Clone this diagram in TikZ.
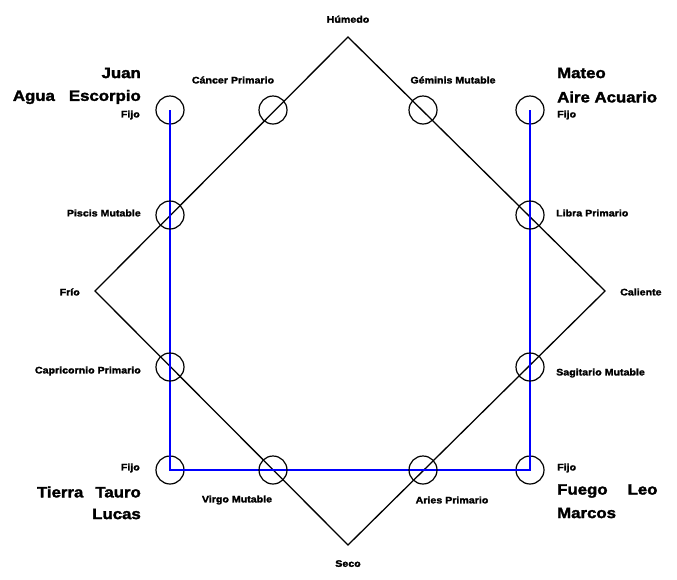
\documentclass[tikz,border=0pt]{standalone}
\usepackage{fontspec}
\setmainfont{Liberation Sans}[BoldFeatures={FakeBold=2,FakeStretch=1.12}]
\usetikzlibrary{positioning}

\begin{document}
\begin{tikzpicture}[x=1pt,y=-1pt,
    sign/.style={draw, circle, line width=1.2pt, minimum size=28pt, inner sep=0pt},
    small/.style={font=\bfseries\fontsize{9.5}{10}\selectfont, inner sep=1pt},
    big/.style={font=\bfseries\fontsize{15}{16}\selectfont, inner sep=1pt},
    axis/.style={line width=1.3pt, black},
    cross/.style={line width=1.6pt, blue}
    ]
    \useasboundingbox (0,0) rectangle (677,579);
    % corners of the square
    \coordinate (hum) at (348,37);
    \coordinate (cal) at (605,291);
    \coordinate (seco) at (348,545);
    \coordinate (frio) at (95,291);
    \draw[axis] (hum) -- (cal) -- (seco) -- (frio) -- cycle;
    % fixed signs
    \node [sign](esc) at (170,110) {};
    \node [sign](acu) at (530,110) {};
    \node [sign](tau) at (170,470) {};
    \node [sign](leo) at (530,470) {};
    \draw[cross] (esc.center) -- (tau.center) -- (leo.center) -- (acu.center);
    % signs on the edges
    \node [sign](can) at (273,110) {};
    \node [sign](gem) at (423,110) {};
    \node [sign](pis) at (170,215) {};
    \node [sign](lib) at (530,215) {};
    \node [sign](cpr) at (170,367) {};
    \node [sign](sag) at (530,367) {};
    \node [sign](vir) at (273,470) {};
    \node [sign](ari) at (423,470) {};
    % qualities
    \node [small](thum) [above=13pt of hum] {Húmedo};
    \node [small](tseco) [below=14pt of seco] {Seco};
    \node [small, anchor=east](tfrio) at (81,292) {Frío};
    \node [small, anchor=west](tcal) at (619,292) {Caliente};
    % sign labels
    \node [small](tcan) at (233,80) {Cáncer Primario};
    \node [small](tgem) at (453,80) {Géminis Mutable};
    \node [small, anchor=east](tpis) at (142,213) {Piscis Mutable};
    \node [small, anchor=west](tlib) at (555,213) {Libra Primario};
    \node [small, anchor=east](tcpr) at (142,371) {Capricornio Primario};
    \node [small, anchor=west](tsag) at (555,373) {Sagitario Mutable};
    \node [small](tvir) at (237,500) {Virgo Mutable};
    \node [small](tari) at (452,500) {Aries Primario};
    % fixed crosses
    \node [small, anchor=east](fesc) at (141,115) {Fijo};
    \node [big, anchor=east](nesc) at (142,97) {Agua\hspace{14pt}Escorpio};
    \node [big, anchor=east](jesc) at (142,73) {Juan};
    \node [small, anchor=west](facu) at (556,115) {Fijo};
    \node [big, anchor=west](nacu) at (556,97) {Aire Acuario};
    \node [big, anchor=west](macu) at (556,73) {Mateo};
    \node [small, anchor=east](ftau) at (141,468) {Fijo};
    \node [big, anchor=east](ntau) at (142,492) {Tierra\hspace{12pt}Tauro};
    \node [big, anchor=east](ltau) at (142,514) {Lucas};
    \node [small, anchor=west](fleo) at (556,468) {Fijo};
    \node [big, anchor=west](nleo) at (556,491) {Fuego\hspace{20pt}Leo};
    \node [big, anchor=west](mleo) at (556,513) {Marcos};
\end{tikzpicture}
\end{document}
